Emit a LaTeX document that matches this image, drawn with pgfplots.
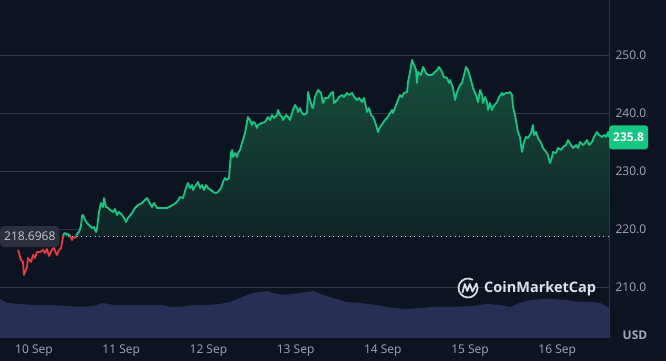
\documentclass[border=0pt]{standalone}
\usepackage{pgfplots}
\pgfplotsset{compat=1.18}
\usepackage{pgfplotstable}
\usepgfplotslibrary{fillbetween}
\usepackage{fontspec}
\setmainfont{Open Sans}
\definecolor{bg}{RGB}{13,20,33}
\definecolor{gridc}{RGB}{46,53,68}
\definecolor{labelc}{RGB}{161,167,187}
\definecolor{upc}{RGB}{22,199,132}
\definecolor{downc}{RGB}{234,57,67}
\definecolor{volc}{RGB}{41,47,84}
\definecolor{filltop}{RGB}{25,88,66}
\definecolor{fillbot}{RGB}{11,10,25}
\definecolor{redfill}{RGB}{66,24,34}
\definecolor{boxc}{RGB}{44,48,60}
\definecolor{boxtext}{RGB}{195,200,212}
\definecolor{logoc}{RGB}{222,224,232}

\pgfplotstableread{
d v
-0.183 216.38
-0.149 214.66
-0.126 214.31
-0.115 212.07
-0.080 213.45
-0.069 215.00
-0.034 214.31
-0.011 215.52
0.011 215.00
0.034 216.03
0.069 216.03
0.103 216.38
0.126 215.86
0.149 216.55
0.172 215.34
0.206 216.38
0.229 216.72
0.252 215.86
0.264 215.52
0.287 216.38
0.310 216.72
0.333 218.62
0.340 219.14
0.356 219.31
0.378 218.97
0.390 219.14
0.413 218.79
0.436 218.10
0.447 218.45
0.482 218.62
0.493 219.14
0.516 219.48
0.539 220.52
0.550 222.24
0.562 222.41
0.585 221.55
0.608 221.03
0.631 220.69
0.665 220.17
0.688 220.34
0.711 219.48
0.722 220.00
0.745 222.93
0.768 224.48
0.791 223.79
0.803 225.34
0.826 223.79
0.849 223.62
0.872 223.28
0.906 222.93
0.929 223.45
0.952 222.41
0.975 222.93
1.009 222.41
1.032 221.90
1.055 221.21
1.078 221.90
1.124 222.76
1.158 223.62
1.193 224.14
1.239 224.48
1.261 224.83
1.296 225.34
1.319 224.66
1.353 223.79
1.376 224.48
1.411 223.62
1.445 223.62
1.479 223.62
1.525 223.62
1.548 223.79
1.594 224.14
1.640 224.66
1.674 225.52
1.709 225.34
1.743 227.07
1.766 227.93
1.789 227.07
1.812 227.59
1.823 226.72
1.858 227.59
1.881 228.10
1.904 227.07
1.927 227.59
1.950 226.72
1.972 227.59
1.995 227.07
2.030 226.72
2.053 226.38
2.087 226.21
2.110 226.38
2.144 227.07
2.167 228.10
2.190 228.79
2.213 228.45
2.236 228.79
2.259 233.10
2.271 233.62
2.282 232.41
2.305 233.10
2.328 232.41
2.339 233.10
2.362 233.62
2.385 234.83
2.397 235.34
2.420 236.55
2.443 238.45
2.454 239.31
2.477 238.79
2.500 237.93
2.511 238.45
2.534 238.28
2.557 237.41
2.569 237.93
2.615 238.28
2.649 238.45
2.683 239.31
2.706 238.79
2.729 239.66
2.752 239.14
2.787 239.66
2.798 240.52
2.821 239.66
2.844 239.31
2.856 238.79
2.890 239.66
2.913 239.31
2.936 238.79
2.970 240.52
2.993 241.38
3.016 240.86
3.028 240.17
3.050 240.86
3.073 240.00
3.096 239.66
3.131 240.00
3.142 243.62
3.165 242.24
3.188 241.03
3.200 240.86
3.222 242.76
3.257 243.97
3.291 243.45
3.314 241.72
3.337 242.59
3.372 242.59
3.406 243.45
3.429 243.62
3.440 241.72
3.475 242.24
3.498 242.76
3.532 243.10
3.555 242.76
3.589 243.45
3.612 243.10
3.647 243.45
3.670 242.76
3.704 242.24
3.727 242.59
3.761 241.90
3.784 242.59
3.807 241.03
3.819 240.17
3.842 240.86
3.865 239.66
3.888 239.31
3.911 238.45
3.933 237.41
3.945 236.72
3.968 237.59
4.002 238.28
4.025 238.79
4.048 239.14
4.083 240.00
4.106 240.52
4.117 240.00
4.151 241.38
4.174 242.24
4.197 243.10
4.220 242.76
4.243 243.45
4.278 243.62
4.289 245.34
4.312 247.07
4.335 249.14
4.358 248.28
4.381 247.41
4.392 245.17
4.404 247.07
4.438 246.55
4.461 247.93
4.495 246.90
4.518 246.55
4.564 246.55
4.587 246.90
4.622 247.41
4.644 247.93
4.679 247.07
4.702 246.21
4.736 246.03
4.759 245.17
4.771 245.69
4.805 244.31
4.828 242.24
4.851 243.62
4.885 244.83
4.908 245.17
4.931 246.55
4.954 247.93
4.977 247.41
5.011 245.69
5.034 244.31
5.069 243.10
5.092 241.90
5.115 243.97
5.138 243.10
5.149 241.72
5.172 242.76
5.195 241.90
5.206 240.52
5.229 241.72
5.252 240.52
5.264 241.03
5.310 241.90
5.333 242.76
5.367 243.45
5.378 243.10
5.413 243.45
5.436 243.45
5.459 243.62
5.482 243.10
5.493 241.03
5.516 239.66
5.539 237.59
5.550 236.72
5.573 235.86
5.596 233.28
5.619 235.00
5.642 235.86
5.665 235.69
5.700 236.55
5.722 237.93
5.734 236.21
5.757 236.72
5.780 235.69
5.814 234.83
5.837 233.97
5.872 233.28
5.894 232.76
5.917 231.38
5.940 232.41
5.952 233.28
5.986 233.10
6.009 233.97
6.044 233.62
6.067 234.14
6.101 234.48
6.124 235.34
6.158 234.48
6.181 233.97
6.216 234.48
6.239 233.97
6.261 235.00
6.296 234.48
6.319 234.83
6.342 235.34
6.365 234.48
6.399 235.00
6.422 235.86
6.456 236.72
6.479 236.21
6.514 235.86
6.537 236.21
6.560 235.86
6.583 236.72
6.594 235.80
}\price

\pgfplotstableread{
d h
-0.390 39
-0.310 35
-0.161 34
-0.011 33
0.183 33
0.378 32
0.528 31
0.677 32
0.791 35
0.906 33
1.067 33
1.296 33
1.479 33
1.560 31
1.674 31
1.823 33
1.984 33
2.133 34
2.248 36
2.362 40
2.511 45
2.672 47
2.741 45
2.856 43
3.050 45
3.200 47
3.314 43
3.429 40
3.578 36
3.739 35
3.922 33
4.117 30
4.266 29
4.427 30
4.576 31
4.805 31
5.034 32
5.183 34
5.344 33
5.459 31
5.573 35
5.642 37
5.803 39
5.952 39
6.101 38
6.261 36
6.411 36
6.491 35
6.560 32
6.594 30
}\vol

\begin{document}
\begin{tikzpicture}[x=1pt,y=1pt]
\fill[bg] (0,0) rectangle (666,361);

% volume
\begin{axis}[at={(0pt,23pt)}, anchor=south west, scale only axis,
  width=609pt, height=338pt, xmin=-0.3899, xmax=6.594, ymin=0, ymax=338,
  hide axis]
\addplot[draw=none, fill=volc] table[x=d,y=h]{\vol} \closedcycle;
\end{axis}

% price
\begin{axis}[at={(0pt,23pt)}, anchor=south west, scale only axis,
  width=609pt, height=338pt,
  xmin=-0.3899, xmax=6.594, ymin=201.207, ymax=259.483,
  clip=false,
  axis x line*=bottom, axis y line*=right,
  x axis line style={draw=none},
  y axis line style={draw=none},
  xtick={0,1,2,3,4,5,6},
  xticklabels={10 Sep,11 Sep,12 Sep,13 Sep,14 Sep,15 Sep,16 Sep},
  ytick={210,220,230,240,250},
  major tick length=0pt,
  /pgf/number format/assume math mode=true,
  y tick label style={/pgf/number format/fixed,/pgf/number format/fixed zerofill,/pgf/number format/precision=1, xshift=3pt},
  x tick label style={yshift=-3pt},
  tick label style={font=\fontsize{12}{14}\selectfont, text=labelc},
]
% grid and separator
\addplot[gridc, line width=0.9pt, forget plot] coordinates {(-0.3899,210) (6.594,210)};
\addplot[gridc, line width=0.9pt, forget plot] coordinates {(-0.3899,220) (6.594,220)};
\addplot[gridc, line width=0.9pt, forget plot] coordinates {(-0.3899,230) (6.594,230)};
\addplot[gridc, line width=0.9pt, forget plot] coordinates {(-0.3899,240) (6.594,240)};
\addplot[gridc, line width=0.9pt, forget plot] coordinates {(-0.3899,250) (6.594,250)};
\addplot[gridc, line width=0.9pt, forget plot] coordinates {(6.594,201.207) (6.594,259.483)};

\addplot[draw=none, name path=base, forget plot] coordinates {(-0.3899,218.6968) (6.594,218.6968)};
\begin{scope}
\clip (axis cs:-0.3899,218.6968) rectangle (axis cs:6.594,259.483);
\addplot[draw=none, top color=filltop, bottom color=fillbot, fill opacity=0.88] table[x=d,y=v]{\price} \closedcycle;
\end{scope}
\begin{scope}
\clip (axis cs:-0.3899,201.207) rectangle (axis cs:6.594,218.6968);
\addplot[draw=none, name path=pr] table[x=d,y=v]{\price};
\addplot[fill=redfill, draw=none] fill between[of=pr and base];
\end{scope}
\addplot[color={rgb,255:red,200;green,205;blue,215}, line width=0.9pt, dash pattern=on 0.9pt off 3.6pt] coordinates {(0.333,218.6968) (6.594,218.6968)};
\begin{scope}
\clip (axis cs:-0.3899,218.6968) rectangle (axis cs:6.594,259.483);
\addplot[upc, line width=1.8pt, line join=round] table[x=d,y=v]{\price};
\end{scope}
\begin{scope}
\clip (axis cs:-0.3899,201.207) rectangle (axis cs:6.594,218.6968);
\addplot[downc, line width=1.8pt, line join=round] table[x=d,y=v]{\price};
\end{scope}
\node[anchor=west, fill=boxc, rounded corners=4pt, text=boxtext,
  font=\fontsize{12}{14}\selectfont, minimum height=21pt, inner xsep=4pt]
  at (axis cs:-0.3899,218.6968) {218.6968};
\node[anchor=west, fill=upc, text=white, rounded corners=3pt,
  font=\bfseries\fontsize{12}{14}\selectfont, minimum height=24pt, inner xsep=4pt]
  at (axis cs:6.594,235.8) {235.8};
\end{axis}

\node[text=labelc, font=\bfseries\fontsize{12}{14}\selectfont] at (635,26) {USD};

% watermark
\begin{scope}[logoc, line width=1.7pt, line cap=round, line join=round]
\draw (468,73) ++(62:9.5) arc[start angle=62, end angle=388, radius=9.5];
\draw (462.5,68.5) -- (464.8,77) -- (467.3,70) -- (469.8,77) -- (472.5,69.5) -- (476.5,77.5);
\end{scope}
\node[anchor=west, text=logoc, font=\bfseries\fontsize{14.5}{16}\selectfont, inner sep=0pt] at (484,72.5) {CoinMarketCap};

\pgfresetboundingbox
\useasboundingbox (0,0) rectangle (666,361);
\end{tikzpicture}
\end{document}
